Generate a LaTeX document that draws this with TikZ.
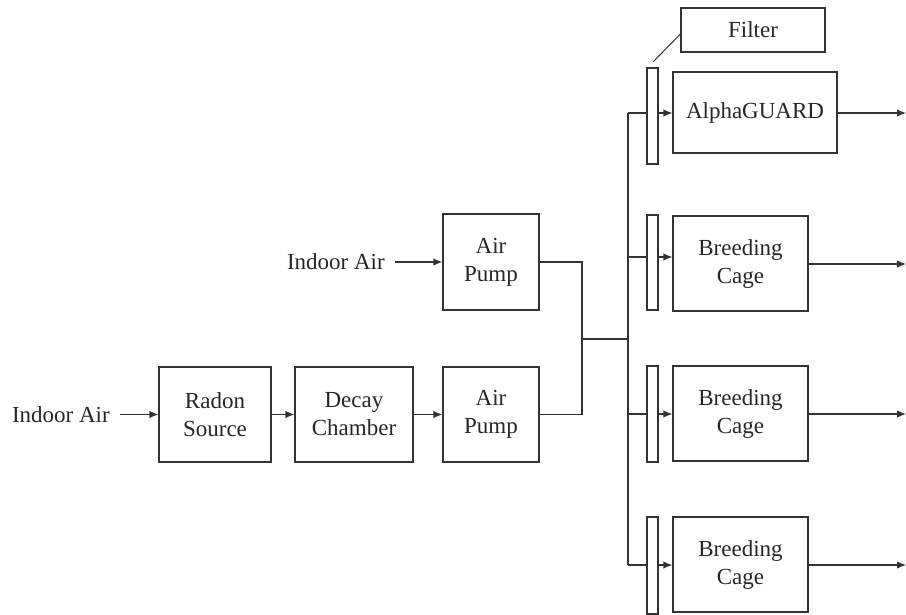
\documentclass[tikz,border=0pt]{standalone}
\usepackage{fontspec}
\setmainfont{Liberation Serif}
\usetikzlibrary{arrows.meta}
\begin{document}
\begin{tikzpicture}[x=1pt,y=-1pt,
  every node/.style={font=\fontsize{23}{28}\selectfont, text=black!85},
  boxnode/.style={draw=black!80, line width=1.2pt, inner sep=0pt, align=center},
  strip/.style={draw=black!80, line width=1.2pt, inner sep=0pt, minimum width=11pt},
  lbl/.style={inner xsep=10pt, inner ysep=0pt},
  line/.style={draw=black!80, line width=1.2pt},
  arr/.style={line, -{Latex[length=9pt,width=7.5pt]}}]
\useasboundingbox (0,0) rectangle (906,614);
% left chain
\node[lbl, anchor=east] (in1) at (120,414.5) {Indoor Air};
\node[boxnode, minimum width=112pt, minimum height=95pt] (radon) at (215,414.5) {Radon\\Source};
\node[boxnode, minimum width=118pt, minimum height=95pt] (decay) at (354,414.5) {Decay\\Chamber};
\node[boxnode, minimum width=96pt, minimum height=95pt] (pump2) at (491,414.5) {Air\\Pump};
\node[lbl, anchor=east] (in2) at (395,262) {Indoor Air};
\node[boxnode, minimum width=96pt, minimum height=96pt] (pump1) at (491,262) {Air\\Pump};
% right side
\node[boxnode, minimum width=144pt, minimum height=44pt] (filter) at (753,30) {Filter};
\node[boxnode, minimum width=164pt, minimum height=81pt] (alpha) at (755,112.5) {AlphaGUARD};
\node[boxnode, minimum width=135pt, minimum height=95pt] (cage1) at (740.5,263.5) {Breeding\\Cage};
\node[boxnode, minimum width=135pt, minimum height=95pt] (cage2) at (740.5,413.5) {Breeding\\Cage};
\node[boxnode, minimum width=135pt, minimum height=95pt] (cage3) at (740.5,564.5) {Breeding\\Cage};
\node[strip, minimum height=96pt] (s0) at (652.5,116) {};
\node[strip, minimum height=95pt] (s1) at (652.5,262.5) {};
\node[strip, minimum height=96pt] (s2) at (652.5,414) {};
\node[strip, minimum height=97pt] (s3) at (652.5,565.5) {};
% coordinates
\coordinate (j1) at (582,262);
\coordinate (j2) at (582,414.5);
\coordinate (jm) at (582,339);
\coordinate (tm) at (628,339);
\coordinate (t0) at (628,113);
\coordinate (t1) at (628,257);
\coordinate (t2) at (628,414);
\coordinate (t3) at (628,565);
\coordinate (o0) at (906,113);
\coordinate (o1) at (906,264);
\coordinate (o2) at (906,414);
\coordinate (o3) at (906,565);
% connectors
\draw[arr] (in1.east) -- (radon.west);
\draw[arr] (radon.east) -- (decay.west);
\draw[arr] (decay.east) -- (pump2.west);
\draw[arr] (in2.east) -- (pump1.west);
\draw[line] (pump1.east |- j1) -- (j1) -- (j2) -- (pump2.east |- j2);
\draw[line] (jm) -- (tm);
\draw[line] (t0) -- (t3);
\draw[line] (t0) -- (s0.west |- t0);
\draw[line] (t1) -- (s1.west |- t1);
\draw[line] (t2) -- (s2.west |- t2);
\draw[line] (t3) -- (s3.west |- t3);
\draw[arr] (s0.east |- t0) -- (alpha.west |- t0);
\draw[arr] (s1.east |- t1) -- (cage1.west |- t1);
\draw[arr] (s2.east |- t2) -- (cage2.west |- t2);
\draw[arr] (s3.east |- t3) -- (cage3.west |- t3);
\draw[arr] (alpha.east |- o0) -- (o0);
\draw[arr] (cage1.east |- o1) -- (o1);
\draw[arr] (cage2.east |- o2) -- (o2);
\draw[arr] (cage3.east |- o3) -- (o3);
\draw[line, line width=1pt] (653,62) -- (filter.west |- 0,34);
\end{tikzpicture}
\end{document}
